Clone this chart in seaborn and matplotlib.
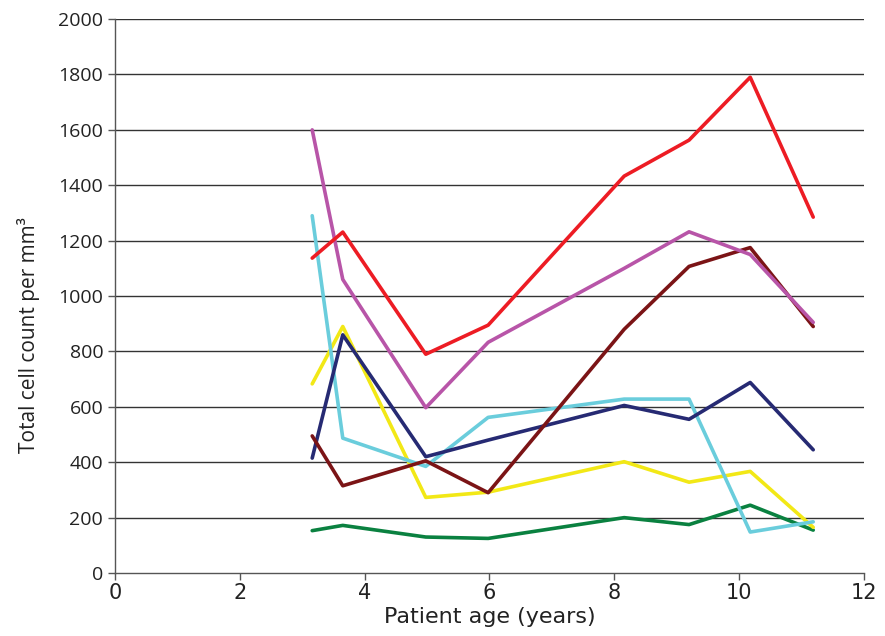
import numpy as np
import pandas as pd
import seaborn as sns
import matplotlib.pyplot as plt

# patient ages (years) at which counts were taken
age = [3.16, 3.65, 4.98, 5.98, 8.16, 9.2, 10.18, 11.19]

red = [1137, 1231, 790, 895, 1433, 1563, 1790, 1285]
magenta = [1600, 1060, 597, 833, 1100, 1232, 1150, 905]
darkred = [495, 315, 405, 290, 880, 1107, 1175, 890]
navy = [415, 860, 420, 480, 605, 555, 688, 445]
cyan = [1290, 487, 385, 562, 628, 628, 148, 185]
yellow = [683, 890, 273, 292, 402, 328, 367, 165]
green = [153, 172, 130, 125, 200, 175, 245, 155]

series = {'red': red, 'magenta': magenta, 'darkred': darkred, 'navy': navy,
          'cyan': cyan, 'yellow': yellow, 'green': green}
colours = {'red': '#ED1C24', 'magenta': '#B855A8', 'darkred': '#7B1416',
           'navy': '#262A73', 'cyan': '#6ACDDC', 'yellow': '#F2E816',
           'green': '#0A8140'}

rows = []
for name, vals in series.items():
    for a, v in zip(age, vals):
        rows.append({'age': a, 'count': v, 'patient': name})
df = pd.DataFrame(rows)

sns.set_style('white')
plt.rcParams['font.family'] = ['DejaVu Sans']

fig = plt.figure(figsize=(8.85, 6.36), dpi=100)
ax = fig.add_axes([0.13, 0.099, 0.846, 0.871])

# gridlines behind the lines
for yv in range(200, 2001, 200):
    ax.axhline(yv, color='#333333', lw=1.0, zorder=0)

order = ['green', 'yellow', 'cyan', 'navy', 'darkred', 'magenta', 'red']
for name in order:
    sub = df[df.patient == name]
    sns.lineplot(data=sub, x='age', y='count', color=colours[name], lw=2.6,
                 ax=ax, legend=False, zorder=3)

ax.set_xlim(0, 12)
ax.set_ylim(0, 2000)
ax.set_xticks(range(0, 13, 2))
ax.set_yticks(range(0, 2001, 200))
for s in ['top', 'right']:
    ax.spines[s].set_visible(False)
for s in ['left', 'bottom']:
    ax.spines[s].set_color('#555555')
    ax.spines[s].set_linewidth(1.0)
ax.tick_params(axis='both', direction='out', length=5, width=1, color='#555555',
               labelcolor='#222222', left=True, bottom=True)
ax.tick_params(axis='x', labelsize=15, pad=2)
ax.tick_params(axis='y', labelsize=14)
for t in ax.get_yticklabels():
    t.set_family('Open Sans')
ax.set_xlabel('Patient age (years)', fontsize=16, color='#222222', labelpad=3)
ax.set_ylabel('Total cell count per mm³', fontsize=15, color='#222222',
              family='Open Sans')
ax.yaxis.set_label_coords(-0.1, 0.43)

fig.savefig('out.png', dpi=100)
